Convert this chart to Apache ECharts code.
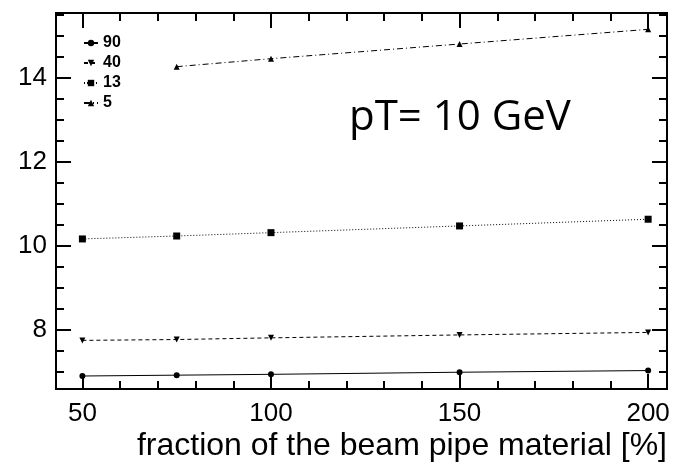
<!DOCTYPE html>
<html>
<head>
<meta charset="utf-8">
<script src="https://cdn.jsdelivr.net/npm/echarts@6/dist/echarts.min.js"></script>
<style>
    html, body { margin: 0; padding: 0; background: #fff; }
    #chart { width: 677px; height: 465px; }
</style>
</head>
<body>
<div id="chart"></div>
<script>
// beam pipe material fraction [%]
var fractions = [50, 75, 100, 150, 200];
// one series per legend entry
var s90 = [6.89, 6.91, 6.93, 6.98, 7.02];
var s40 = [7.74, 7.76, 7.80, 7.87, 7.93];
var s13 = [10.16, 10.23, 10.31, 10.47, 10.63];
var s5 = [null, 14.27, 14.46, 14.81, 15.16];

var xMajor = [50, 100, 150, 200];
var xMinor = [60, 70, 80, 90, 110, 120, 130, 140, 160, 170, 180, 190];
var yMajor = [8, 10, 12, 14];
var yMinor = [7, 7.5, 8.5, 9, 9.5, 10.5, 11, 11.5, 12.5, 13, 13.5, 14.5, 15, 15.5];

var font = 'Liberation Sans, Arial, sans-serif';

function pairs(vals) {
    return fractions.map(function (x, i) { return [x, vals[i]]; });
}

// axis helper: one axis per tick set (major / minor), on each side of the frame
function xAx(pos, ticks, len, labels) {
    return {
        type: 'value', position: pos, min: 43, max: 205,
        axisLine: { show: true, onZero: false, lineStyle: { color: '#000', width: 2 } },
        axisTick: { show: true, inside: true, length: len, customValues: ticks, lineStyle: { color: '#000', width: 2 } },
        axisLabel: labels ? { show: true, customValues: ticks, color: '#000', fontSize: 26, fontFamily: font, margin: 12 } : { show: false },
        splitLine: { show: false }
    };
}
function yAx(pos, ticks, len, labels) {
    return {
        type: 'value', position: pos, min: 6.58, max: 15.55,
        axisLine: { show: true, onZero: false, lineStyle: { color: '#000', width: 2 } },
        axisTick: { show: true, inside: true, length: len, customValues: ticks, lineStyle: { color: '#000', width: 2 } },
        axisLabel: labels ? { show: true, customValues: ticks, color: '#000', fontSize: 26, fontFamily: font, margin: 9 } : { show: false },
        splitLine: { show: false }
    };
}

var chart = echarts.init(document.getElementById('chart'), null, { renderer: 'canvas' });

var xBottom = xAx('bottom', xMajor, 15, true);
xBottom.name = 'fraction of the beam pipe material [%]';
xBottom.nameLocation = 'end';
xBottom.nameGap = 0;
xBottom.nameTextStyle = { color: '#000', fontSize: 32, fontFamily: font, align: 'right', verticalAlign: 'top', padding: [41, 0, 0, 0] };

function line(name, vals, symbol, size, dash, rotate) {
    return {
        name: name, type: 'line', xAxisIndex: 0, yAxisIndex: 0,
        data: pairs(vals), symbol: symbol, symbolSize: size, symbolRotate: rotate || 0,
        showSymbol: true, connectNulls: false, animation: false,
        itemStyle: { color: '#000' },
        lineStyle: { color: '#000', width: 1, type: dash }
    };
}

chart.setOption({
    animation: false,
    grid: { left: 56, right: 10, top: 13, bottom: 76, containLabel: false, outerBoundsMode: 'none' },
    legend: {
        orient: 'vertical', left: 78, top: 30, itemGap: 4,
        itemWidth: 14, itemHeight: 8,
        textStyle: { color: '#000', fontWeight: 'bold', fontSize: 16, fontFamily: font },
        data: ['90', '40', '13', '5']
    },
    graphic: [{
        type: 'text', x: 349, y: 118,
        style: { text: 'pT= 10 GeV', fill: '#000', font: '42px "Open Sans", sans-serif', verticalAlign: 'middle' }
    }],
    xAxis: [
        xBottom,
        xAx('bottom', xMinor, 8, false),
        xAx('top', xMajor, 15, false),
        xAx('top', xMinor, 8, false)
    ],
    yAxis: [
        yAx('left', yMajor, 15, true),
        yAx('left', yMinor, 8, false),
        yAx('right', yMajor, 15, false),
        yAx('right', yMinor, 8, false)
    ],
    series: [
        line('90', s90, 'circle', 6, 'solid'),
        line('40', s40, 'triangle', 6, [4, 3], 180),
        line('13', s13, 'rect', 7, [1, 2]),
        line('5', s5, 'triangle', 6, [6, 3, 1, 3])
    ]
});
</script>
</body>
</html>
